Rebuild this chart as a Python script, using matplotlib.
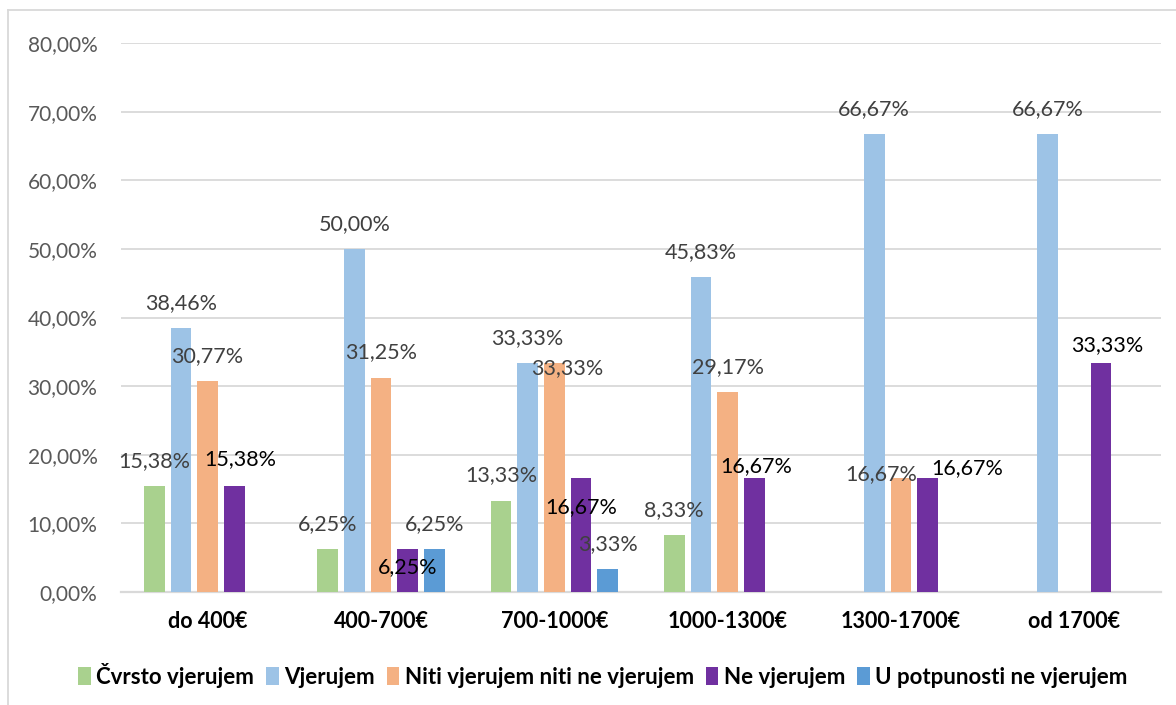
import matplotlib
matplotlib.use("Agg")
import matplotlib.pyplot as plt
from matplotlib.lines import Line2D
import numpy as np

plt.rcParams['font.family'] = ['Lato', 'DejaVu Sans']

categories = ['do 400€', '400-700€', '700-1000€', '1000-1300€', '1300-1700€', 'od 1700€']
series_names = ['Čvrsto vjerujem', 'Vjerujem', 'Niti vjerujem niti ne vjerujem',
                'Ne vjerujem', 'U potpunosti ne vjerujem']
cvrsto = [15.38, 6.25, 13.33, 8.33, 0, 0]
vjerujem = [38.46, 50.00, 33.33, 45.83, 66.67, 66.67]
niti = [30.77, 31.25, 33.33, 29.17, 16.67, 0]
ne_vjerujem = [15.38, 6.25, 16.67, 16.67, 16.67, 33.33]
u_potpunosti = [0, 6.25, 3.33, 0, 0, 0]

colors = ['#a9d18e', '#9dc3e6', '#f4b183', '#7030a0', '#5b9bd5']
label_colors = ['#404040', '#404040', '#404040', '#000000', '#404040']

# manual nudges of single data labels (pixels, relative to default spot above the bar)
nudges = {
    (3, 0): (6, 2),
    (3, 1): (0, -43),
    (2, 2): (13, -30),
    (3, 2): (0, -54),
    (3, 3): (2, -13),
    (2, 4): (-20, -21),
    (3, 4): (40, -15),
    (3, 5): (6, -7),
}

data = [cvrsto, vjerujem, niti, ne_vjerujem, u_potpunosti]

fig = plt.figure(figsize=(11.76, 7.05), dpi=100)
ax = fig.add_axes([121 / 1176, 1 - 592 / 705, 1040 / 1176, 549 / 705])

x = np.arange(len(categories))
pitch = 0.154
width = 0.12
for i, (vals, name) in enumerate(zip(data, series_names)):
    pos = x + (i - 2) * pitch
    ax.bar(pos, vals, width, color=colors[i], label=name, zorder=3)
    for g, v in enumerate(vals):
        if v == 0:
            continue
        dx, dy = nudges.get((i, g), (0, 0))
        ax.annotate(f'{v:.2f}%'.replace('.', ','), (pos[g], v),
                    xytext=(dx, 25 + dy), textcoords='offset pixels',
                    ha='center', va='center', fontsize=15.5,
                    color=label_colors[i], zorder=4)

ax.set_xlim(-0.5, len(categories) - 0.5)
ax.set_ylim(0, 80)
ax.set_yticks(range(0, 81, 10))
ax.set_yticklabels([f'{t},00%' for t in range(0, 81, 10)], fontsize=15, color='#595959')
ax.set_xticks(x)
ax.set_xticklabels(categories, fontsize=15.5, fontweight='bold', color='#000000')
ax.tick_params(axis='both', length=0)
ax.tick_params(axis='y', pad=17)
ax.tick_params(axis='x', pad=14)
ax.grid(axis='y', color='#d9d9d9', linewidth=1.3, zorder=0)
for side in ['left', 'right', 'top']:
    ax.spines[side].set_visible(False)
ax.spines['bottom'].set_color('#d9d9d9')
ax.spines['bottom'].set_linewidth(1.6)

fig.legend(loc='center', bbox_to_anchor=(603 / 1176, 1 - 675 / 705), ncol=5,
           frameon=False, handlelength=0.55, handleheight=0.85, handletextpad=0.25,
           columnspacing=0.55, prop={'weight': 'bold', 'size': 16})

# chart border (only left and top visible in the frame)
fig.add_artist(Line2D([8 / 1176, 8 / 1176], [0, 1 - 10 / 705], color='#d9d9d9', lw=1.3))
fig.add_artist(Line2D([8 / 1176, 1], [1 - 10 / 705, 1 - 10 / 705], color='#d9d9d9', lw=1.3))

fig.savefig('out.png', dpi=100)
